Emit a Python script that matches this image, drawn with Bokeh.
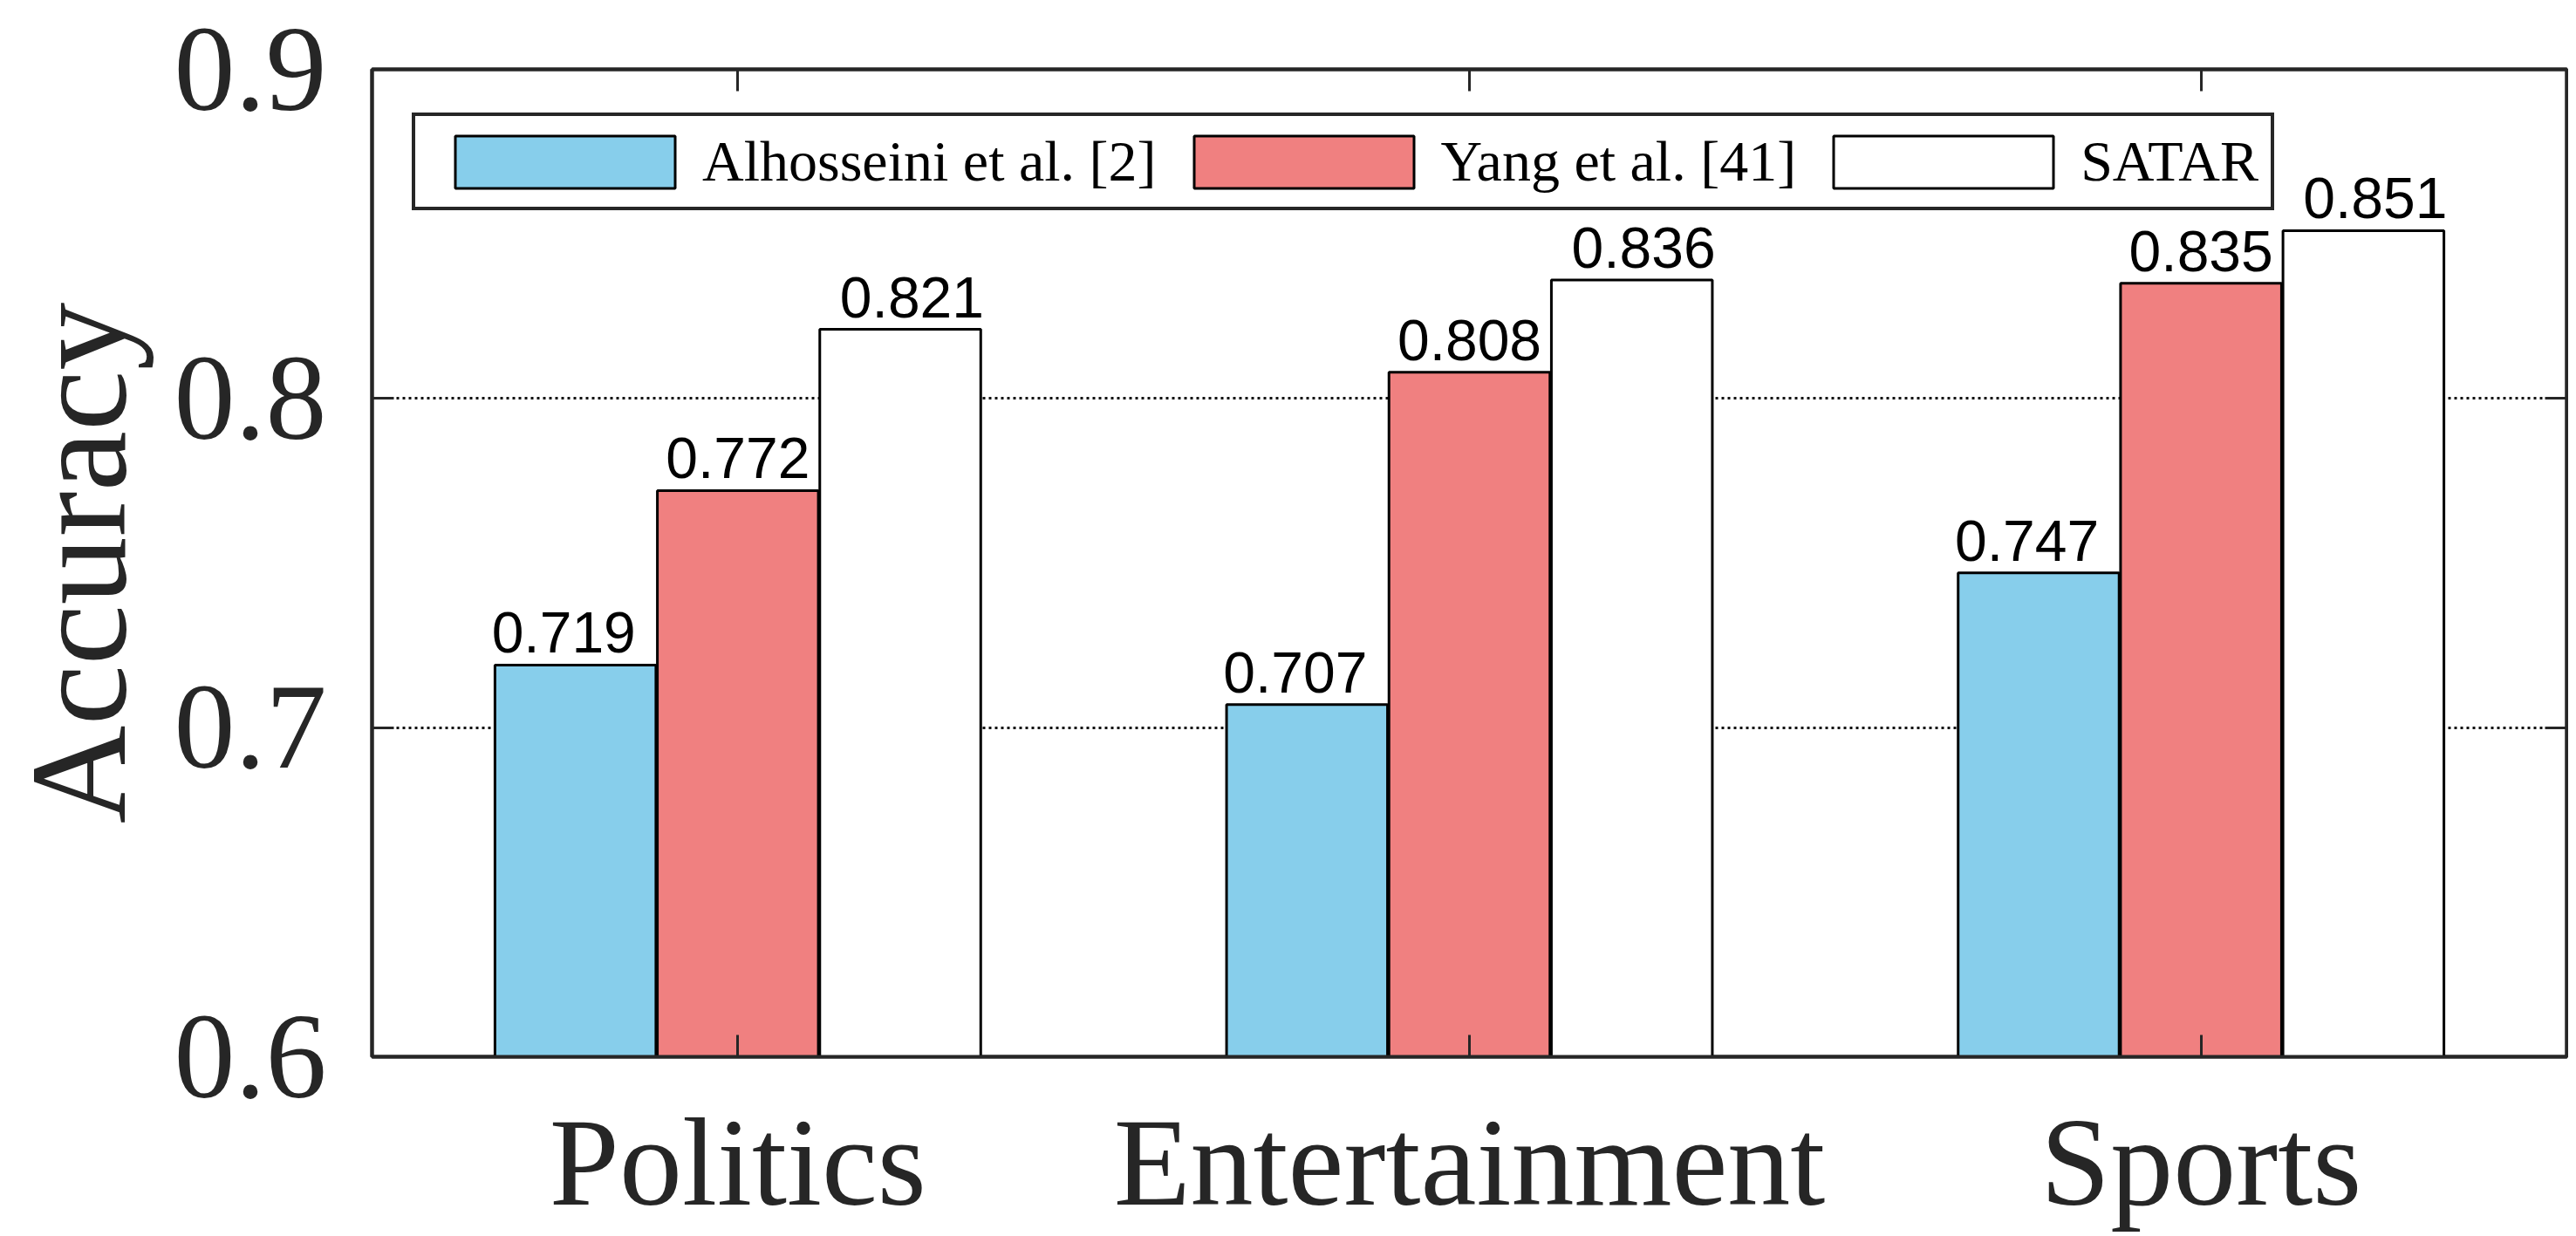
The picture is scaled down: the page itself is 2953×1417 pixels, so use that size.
from bokeh.plotting import figure
from bokeh.models import (ColumnDataSource, FactorRange, FixedTicker, PrintfTickFormatter,
                          LinearAxis, CategoricalAxis, Legend, LegendItem)
from bokeh.transform import dodge
from bokeh.core.properties import value
from bokeh.embed import file_html
from bokeh.resources import INLINE

# ---------------- data ----------------
categories = ["Politics", "Entertainment", "Sports"]
series_names = ["Alhosseini et al. [2]", "Yang et al. [41]", "SATAR"]
alhosseini = [0.719, 0.707, 0.747]
yang = [0.772, 0.808, 0.835]
satar = [0.821, 0.836, 0.851]
y_ticks = [0.6, 0.7, 0.8, 0.9]
grid_ticks = [0.7, 0.8]

# ---------------- style ----------------
colors = ["#87CEEB", "#F08080", "#FFFFFF"]
bar_offsets = [-0.222, 0.0, 0.222]
label_offsets = [-0.238, 0.0, 0.238]
bar_width = 0.22
axis_color = "#262626"
SERIF = "Liberation Serif"
SANS = "Liberation Sans"

p = figure(frame_width=2516, frame_height=1132,
           x_range=FactorRange(*categories, range_padding=0),
           y_range=(0.6, 0.9), output_backend="svg", toolbar_location=None,
           min_border_left=419, min_border_right=2, min_border_top=79, min_border_bottom=0)
p.background_fill_color = "white"
p.border_fill_color = "white"
p.outline_line_color = axis_color
p.outline_line_width = 4

series_values = [alhosseini, yang, satar]
renderers = []
for vals, col, boff, loff in zip(series_values, colors, bar_offsets, label_offsets):
    src = ColumnDataSource(dict(cat=categories, val=vals, lab=[f"{v:.3f}" for v in vals]))
    r = p.vbar(x=dodge("cat", boff, range=p.x_range), top="val", bottom=0, width=bar_width,
               source=src, fill_color=col, line_color="black", line_width=3)
    renderers.append(r)
    p.text(x=dodge("cat", loff, range=p.x_range), y="val", text="lab", source=src,
           text_font=value(SANS), text_font_size="66px", text_color="black",
           text_align="center", text_baseline="bottom", y_offset=-14)

# ---------------- axes ----------------
xa = p.xaxis[0]
xa.major_label_text_font = SERIF
xa.major_label_text_font_size = "144px"
xa.major_label_text_color = axis_color
xa.major_label_standoff = 41
xa.major_tick_in = 25
xa.major_tick_out = 0
xa.major_tick_line_width = 3
xa.major_tick_line_color = axis_color
xa.axis_line_color = axis_color
xa.axis_line_width = 4

ya = p.yaxis[0]
ya.ticker = FixedTicker(ticks=y_ticks)
ya.formatter = PrintfTickFormatter(format="%.1f")
ya.minor_tick_line_color = None
ya.major_label_text_font = SERIF
ya.major_label_text_font_size = "140px"
ya.major_label_text_color = axis_color
ya.major_label_standoff = 52
ya.major_tick_in = 25
ya.major_tick_out = 0
ya.major_tick_line_width = 3
ya.major_tick_line_color = axis_color
ya.axis_line_color = axis_color
ya.axis_line_width = 4
ya.axis_label = "Accuracy"
ya.axis_label_text_font = SERIF
ya.axis_label_text_font_size = "156px"
ya.axis_label_text_font_style = "normal"
ya.axis_label_text_color = axis_color
ya.axis_label_standoff = 20

top_axis = CategoricalAxis(major_label_text_font_size="1px", major_label_text_color=None,
                           major_label_standoff=0,
                           major_tick_in=25, major_tick_out=0, major_tick_line_width=3,
                           major_tick_line_color=axis_color, axis_line_color=axis_color,
                           axis_line_width=4)
p.add_layout(top_axis, "above")
right_axis = LinearAxis(ticker=FixedTicker(ticks=y_ticks), major_label_text_font_size="1px",
                        major_label_text_color=None,
                        major_label_standoff=0, major_tick_in=25, major_tick_out=0,
                        major_tick_line_width=3, major_tick_line_color=axis_color,
                        minor_tick_line_color=None, axis_line_color=axis_color, axis_line_width=4)
p.add_layout(right_axis, "right")

# ---------------- grid ----------------
p.xgrid.visible = False
p.ygrid.ticker = FixedTicker(ticks=grid_ticks)
p.ygrid.grid_line_color = "#111111"
p.ygrid.grid_line_width = 3
p.ygrid.grid_line_dash = "3 4"

# ---------------- legend ----------------
legend = Legend(items=[LegendItem(label=n, renderers=[r]) for n, r in zip(series_names, renderers)],
                orientation="horizontal", location=(46, 970), margin=0,
                glyph_width=315, glyph_height=75, label_standoff=0, spacing=11, padding=14,
                label_text_font=SERIF, label_text_font_size="66px", label_text_color="black",
                border_line_color=axis_color, border_line_width=4, border_line_alpha=1.0,
                background_fill_alpha=1.0)
p.add_layout(legend, "center")

open("out.html", "w").write(file_html(p, INLINE))
